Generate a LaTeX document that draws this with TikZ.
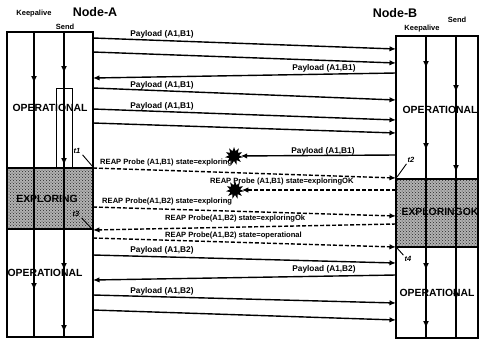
\documentclass[tikz,border=0pt]{standalone}
\usepackage{fontspec}
\setmainfont{Liberation Sans}
\usetikzlibrary{arrows.meta,shapes.geometric,patterns}
\tikzset{
  msg/.style={line width=1.4pt,-{Latex[length=6.5pt,width=5.5pt]}},
  probe/.style={msg,dash pattern=on 4pt off 2pt},
  lbl/.style={font=\fontsize{7.6}{8}\selectfont\bfseries,inner sep=0pt},
  plbl/.style={font=\fontsize{8.3}{9}\selectfont\bfseries,inner sep=0pt},
  statelbl/.style={font=\fontsize{10.4}{11}\selectfont\bfseries,inner sep=0pt},
  headlbl/.style={font=\fontsize{12.5}{13}\selectfont\bfseries,inner sep=0pt},
  collbl/.style={font=\fontsize{7.5}{8}\selectfont\bfseries,inner sep=0pt},
  tlbl/.style={font=\fontsize{7.5}{8}\selectfont\bfseries\itshape,inner sep=0pt},
  life/.style={line width=1.5pt},
  burst/.style={star,star points=11,star point ratio=1.8,fill=black,minimum size=18pt,inner sep=0pt},
  band/.style={fill=black!30},
  bandtex/.style={pattern=crosshatch dots,pattern color=black!85},
  downtip/.style={line width=1.5pt,-{Latex[length=7pt,width=6pt]}}
}
\begin{document}
\begin{tikzpicture}[x=1pt,y=-1pt]
\useasboundingbox (0,0) rectangle (479,341);
% exploring bands
\fill[band] (7,168) rectangle (93,229);
\fill[bandtex] (7,168) rectangle (93,229);
\fill[band] (396,179) rectangle (478,247);
\fill[bandtex] (396,179) rectangle (478,247);
% boxes
\draw[life] (7,32) rectangle (93,337);
\draw[life] (396,36) rectangle (478,338);
\draw[life] (7,168) -- (93,168);
\draw[life] (7,229) -- (93,229);
\draw[life] (396,179) -- (478,179);
\draw[life] (396,247) -- (478,247);
% lifelines
\draw[life] (34,32) -- (34,337);
\draw[life] (64,32) -- (64,337);
\draw[line width=1pt] (56,88) rectangle (72,168);
\draw[life] (426,36) -- (426,338);
\draw[life] (456,36) -- (456,338);
% arrowheads on lifelines
\foreach \yy in {83,290} {\draw[downtip] (34,\yy-7) -- (34,\yy);}
\foreach \yy in {73,165,270,332} {\draw[downtip] (64,\yy-7) -- (64,\yy);}
\foreach \yy in {68,150,270,328} {\draw[downtip] (426,\yy-7) -- (426,\yy);}
\foreach \yy in {92,172,300} {\draw[downtip] (456,\yy-7) -- (456,\yy);}
% headings
\node[headlbl] (na) at (95,12) {Node-A};
\node[headlbl] (nb) at (395,13) {Node-B};
\node[collbl] (ka) at (34,14) {Keepalive};
\node[collbl] (sa) at (65,27) {Send};
\node[collbl] (kb) at (422,29) {Keepalive};
\node[collbl] (sb) at (457,20) {Send};
% state labels
\node[statelbl] (s1) at (50,108) {OPERATIONAL};
\node[statelbl] (s2) at (47,199) {EXPLORING};
\node[statelbl] (s3) at (45,273) {OPERATIONAL};
\node[statelbl] (s4) at (440,110) {OPERATIONAL};
\node[statelbl] (s5) at (440,212) {EXPLORINGOK};
\node[statelbl] (s6) at (437,293) {OPERATIONAL};
% endpoints
\coordinate (a1) at (93,38);  \coordinate (b1) at (396,49);
\coordinate (a2) at (93,52);  \coordinate (b2) at (396,63);
\coordinate (b3) at (396,73); \coordinate (a3) at (93,78);
\coordinate (a4) at (93,88);  \coordinate (b4) at (396,100);
\coordinate (a5) at (93,109); \coordinate (b5) at (396,120);
\coordinate (a6) at (93,123); \coordinate (b6) at (396,133);
\coordinate (b7) at (396,155);
\node[burst] (x1) at (234,156) {};
\coordinate (a8) at (93,168); \coordinate (b8) at (396,178);
\coordinate (b9) at (396,190);
\node[burst] (x2) at (235,190) {};
\coordinate (a10) at (93,207); \coordinate (b10) at (396,216);
\coordinate (b11) at (396,224); \coordinate (a11) at (93,230);
\coordinate (a12) at (93,238); \coordinate (b12) at (396,247);
\coordinate (a13) at (93,255); \coordinate (b13) at (396,263);
\coordinate (b14) at (396,275); \coordinate (a14) at (93,280);
\coordinate (a15) at (93,295); \coordinate (b15) at (396,303);
\coordinate (a16) at (93,310); \coordinate (b16) at (396,320);
% messages
\draw[msg] (a1) -- (b1);
\draw[msg] (a2) -- (b2);
\draw[msg] (b3) -- (a3);
\draw[msg] (a4) -- (b4);
\draw[msg] (a5) -- (b5);
\draw[msg] (a6) -- (b6);
\draw[msg] (b7) -- (x1);
\draw[probe] (a8) -- (b8);
\draw[probe] (b9) -- (x2);
\draw[probe] (a10) -- (b10);
\draw[probe] (b11) -- (a11);
\draw[probe] (a12) -- (b12);
\draw[msg] (a13) -- (b13);
\draw[msg] (b14) -- (a14);
\draw[msg] (a15) -- (b15);
\draw[msg] (a16) -- (b16);
% message labels
\node[plbl] (l1) at (162,34) {Payload (A1,B1)};
\node[plbl] (l3) at (324,68) {Payload (A1,B1)};
\node[plbl] (l4) at (162,85) {Payload (A1,B1)};
\node[plbl] (l5) at (162,106) {Payload (A1,B1)};
\node[plbl] (l7) at (323,151) {Payload (A1,B1)};
\node[lbl,anchor=west] (l8) at (100,163) {REAP Probe (A1,B1) state=exploring};
\node[lbl,anchor=west] (l9) at (210,182) {REAP Probe (A1,B1) state=exploringOK};
\node[lbl,anchor=west] (l10) at (102,202) {REAP Probe(A1,B2) state=exploring};
\node[lbl,anchor=west] (l11) at (165,219) {REAP Probe(A1,B2) state=exploringOk};
\node[lbl,anchor=west] (l12) at (165,236) {REAP Probe(A1,B2) state=operational};
\node[plbl] (l13) at (162,250) {Payload (A1,B2)};
\node[plbl] (l14) at (324,269) {Payload (A1,B2)};
\node[plbl] (l15) at (162,291) {Payload (A1,B2)};
% time marks
\node[tlbl] (t1) at (77,151) {t1};
\draw[line width=0.9pt] (t1.south east) ++(2,1) coordinate (t1s) -- (93,167);
\node[tlbl] (t2) at (411,160) {t2};
\draw[line width=0.9pt] (t2.south west) ++(-1,1) coordinate (t2s) -- (397,177);
\node[tlbl] (t3) at (76,214) {t3};
\draw[line width=0.9pt] (t3.south east) ++(2,1) coordinate (t3s) -- (92,229);
\node[tlbl] (t4) at (408,259) {t4};
\draw[line width=0.9pt] (t4.north west) ++(-1,-1) coordinate (t4s) -- (397,248);
\end{tikzpicture}
\end{document}
